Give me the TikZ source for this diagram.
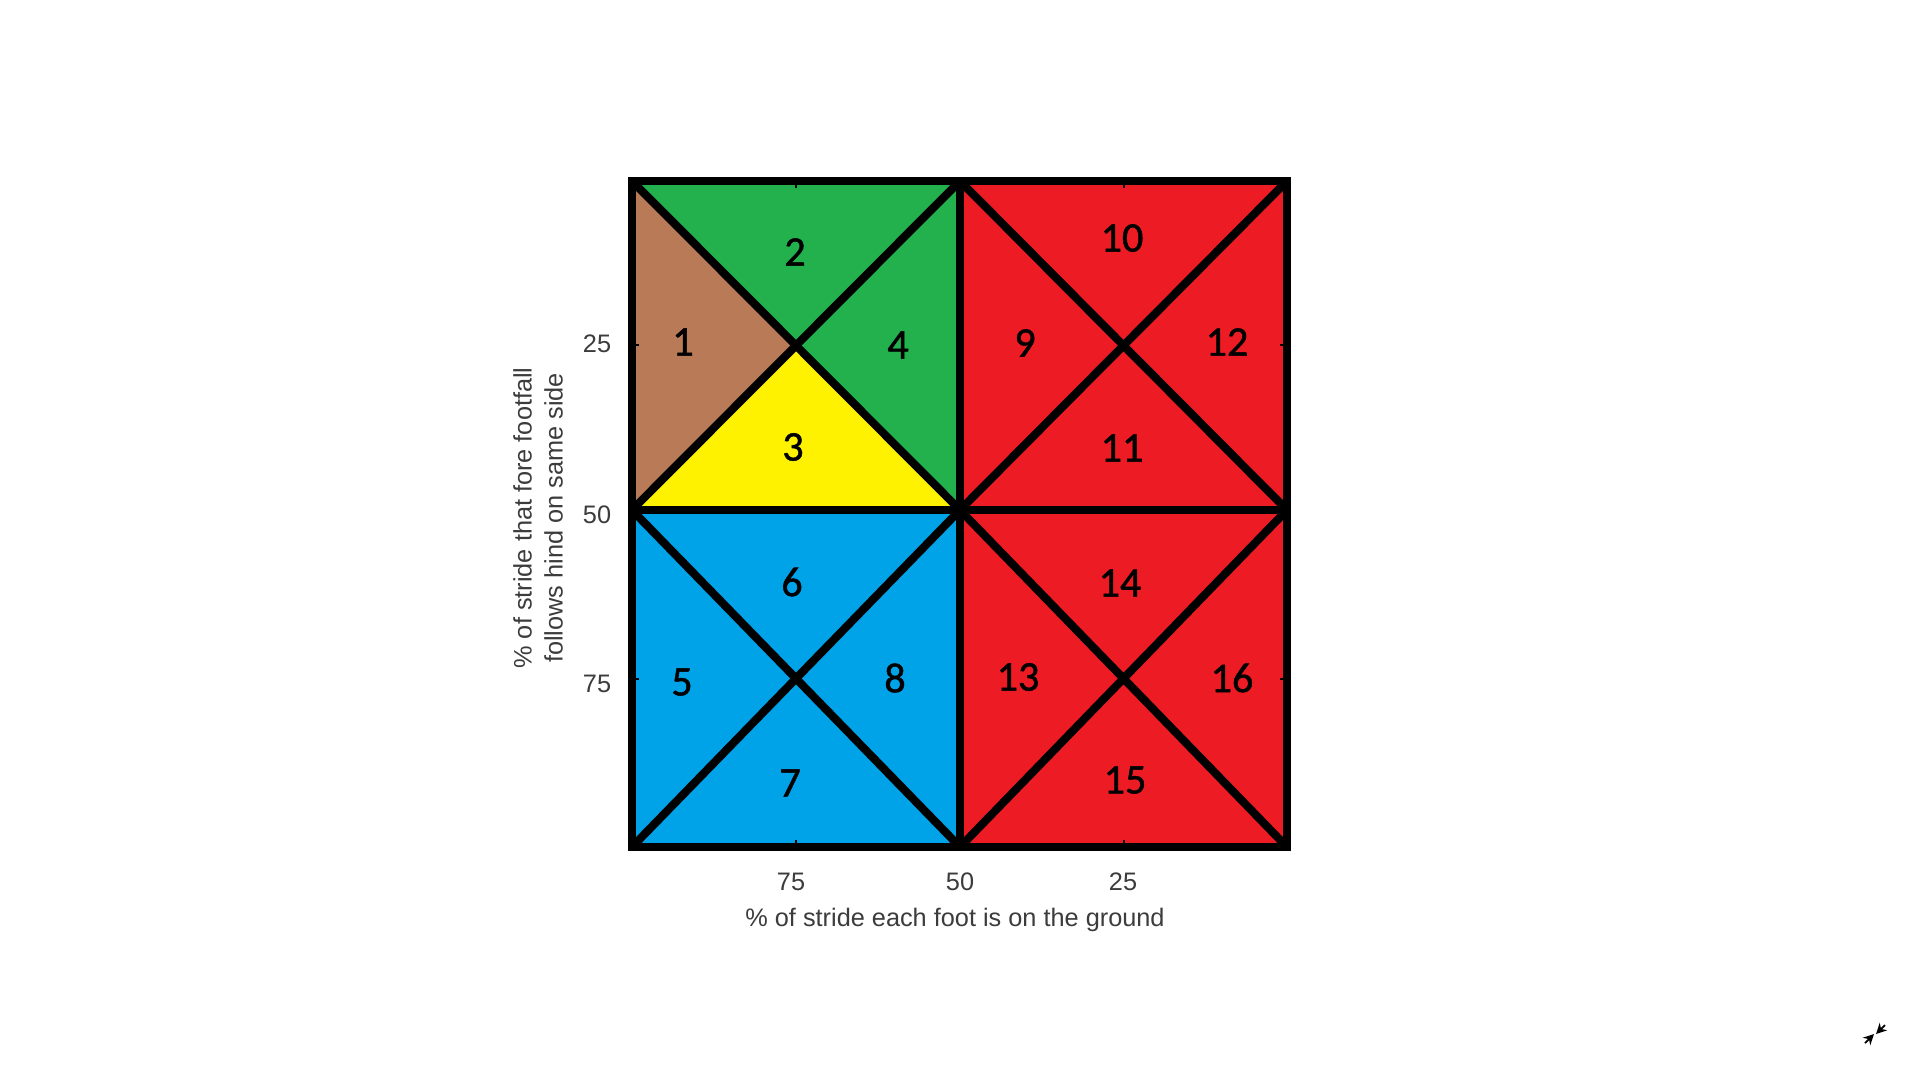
\documentclass[tikz,border=0pt]{standalone}
\usepackage{fontspec}
\setmainfont{Liberation Sans}
\newfontfamily\numfont[FakeBold=1.2]{Carlito}
\usetikzlibrary{arrows.meta,calc}

\definecolor{gaitbrown}{RGB}{185,122,87}
\definecolor{gaitgreen}{RGB}{34,177,76}
\definecolor{gaityellow}{RGB}{255,242,0}
\definecolor{gaitblue}{RGB}{0,162,232}
\definecolor{gaitred}{RGB}{237,28,36}
\definecolor{axisgray}{RGB}{60,60,60}

\tikzset{
    grid line/.style={line width=2.3pt, line join=miter},
    tick mark/.style={line width=0.6pt},
    region/.style={font=\numfont\fontsize{12}{14}\selectfont},
    tick label/.style={font=\fontsize{7.2}{8.8}\selectfont, text=axisgray},
}

\begin{document}
\begin{tikzpicture}[x=0.1mm, y=-0.1mm]
    \useasboundingbox[fill=white] (0,0) rectangle (1920,1080);

    % corners of the plot
    \coordinate (nw) at (632,181);
    \coordinate (n)  at (960,181);
    \coordinate (ne) at (1287,181);
    \coordinate (w)  at (632,510);
    \coordinate (c)  at (960,510);
    \coordinate (e)  at (1287,510);
    \coordinate (sw) at (632,847);
    \coordinate (s)  at (960,847);
    \coordinate (se) at (1287,847);
    \coordinate (x1) at ($(nw)!0.5!(c)$);

    % coloured regions
    \fill[gaitbrown] (nw) -- (x1) -- (w) -- cycle;
    \fill[gaitgreen] (nw) -- (n) -- (c) -- (x1) -- cycle;
    \fill[gaityellow] (w) -- (x1) -- (c) -- cycle;
    \fill[gaitblue] (w) rectangle (s);
    \fill[gaitred] (n) rectangle (se);

    % ticks
    \foreach \tx in {796,1124} {
        \draw[tick mark] (\tx,181) -- ++(0,7);
        \draw[tick mark] (\tx,847) -- ++(0,-7);
    }
    \foreach \ty in {345,679} {
        \draw[tick mark] (632,\ty) -- ++(7,0);
        \draw[tick mark] (1287,\ty) -- ++(-7,0);
    }

    % grid and diagonals
    \draw[grid line] (n) -- (s);
    \draw[grid line] (w) -- (e);
    \foreach \a/\b/\p/\q in {nw/c/w/n, n/e/c/ne, w/s/sw/c, c/se/s/e}
        \draw[grid line] (\a) -- (\b) (\p) -- (\q);
    \draw[grid line] (nw) rectangle (se);

    % region numbers
    \node[region] (r1)  at (683,342) {1};
    \node[region] (r2)  at (795,252) {2};
    \node[region] (r3)  at (793,447) {3};
    \node[region] (r4)  at (898,345) {4};
    \node[region] (r5)  at (682,682) {5};
    \node[region] (r6)  at (792,582) {6};
    \node[region] (r7)  at (790,783) {7};
    \node[region] (r8)  at (895,678) {8};
    \node[region] (r9)  at (1025,343) {9};
    \node[region] (r10) at (1122,238) {10};
    \node[region] (r11) at (1122,448) {11};
    \node[region] (r12) at (1227,342) {12};
    \node[region] (r13) at (1018,677) {13};
    \node[region] (r14) at (1120,583) {14};
    \node[region] (r15) at (1125,780) {15};
    \node[region] (r16) at (1232,678) {16};

    % axes
    \node[tick label] (y25) at (597,344) {25};
    \node[tick label] (y50) at (597,515) {50};
    \node[tick label] (y75) at (597,684) {75};
    \node[tick label] (x75) at (791,882) {75};
    \node[tick label] (x50) at (960,882) {50};
    \node[tick label] (x25) at (1123,882) {25};
    \node[tick label] (xtitle) at (955,920) {\% of stride each foot is on the ground};
    \node[tick label, rotate=90, align=center] (ytitle) at (538,518)
        {\% of stride that fore footfall\\follows hind on same side};

    % collapse icon
    \coordinate (ico1) at (1865,1043);
    \coordinate (ico2) at (1874,1034);
    \coordinate (ico3) at (1885,1025);
    \coordinate (ico4) at (1876,1034);
    \draw[-{Stealth[length=3pt,width=3pt]}, line width=0.5pt] (ico1) -- (ico2);
    \draw[-{Stealth[length=3pt,width=3pt]}, line width=0.5pt] (ico3) -- (ico4);
\end{tikzpicture}
\end{document}
